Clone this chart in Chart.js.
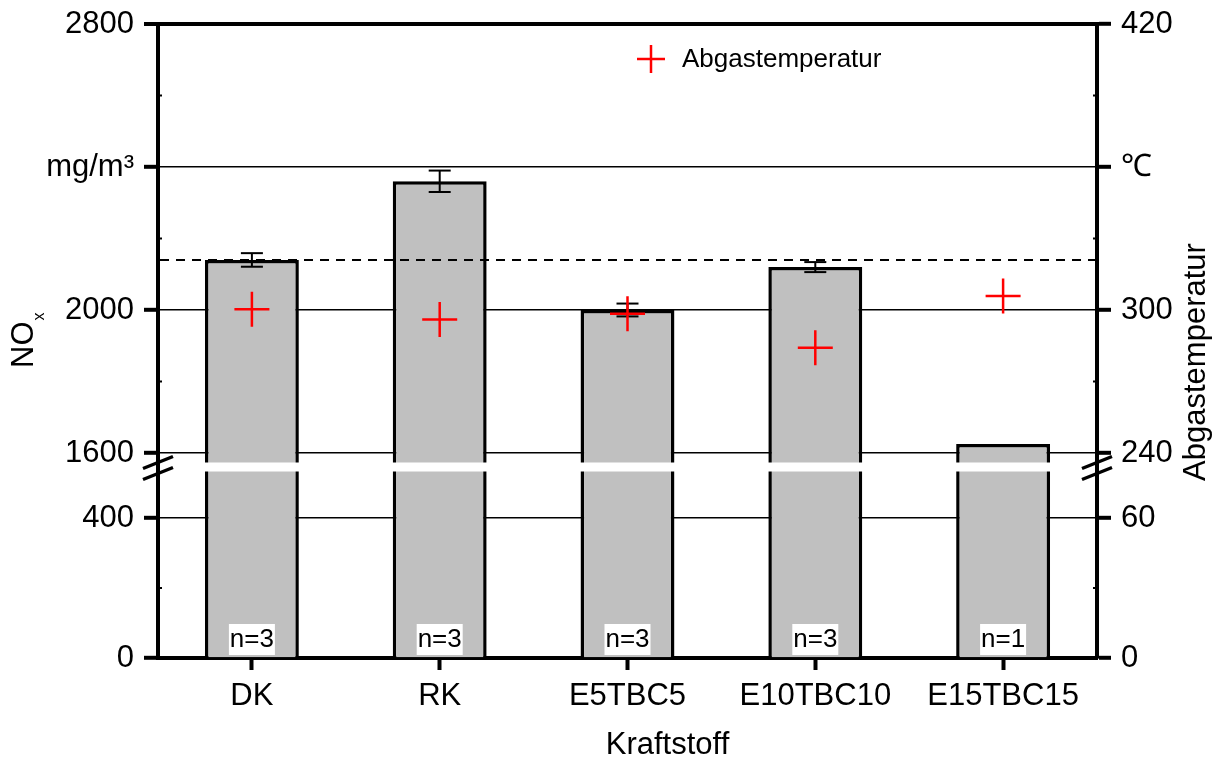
<!DOCTYPE html>
<html>
<head>
<meta charset="utf-8">
<title>NOx und Abgastemperatur</title>
<script src="https://cdn.jsdelivr.net/npm/chart.js@4.4.1/dist/chart.umd.min.js"></script>
<style>
  html, body { margin: 0; padding: 0; background: #fff; }
</style>
</head>
<body>
<canvas id="chart" width="1218" height="760"></canvas>
<script>
const FONT = '"Liberation Sans", Arial, Helvetica, sans-serif';

// Kraftstoffe und Messwerte
const fuels = ['DK', 'RK', 'E5TBC5', 'E10TBC10', 'E15TBC15'];
const noxMean = [2140, 2360, 2000, 2120, 1625];        // mg/m³
const noxErr = [19, 30, 18, 14, null];
const exhaustTemp = [300.3, 296, 298.4, 284.2, 305.9]; // °C
const sampleCount = [3, 3, 3, 3, 1];

// Achsenbruch: oberer und unterer Bereich
const noxHiRange = [1572, 2800];
const noxLoRange = [0, 557];
const tempHiRange = [235.8, 420];
const tempLoRange = [0, 83.6];
const noxHiTicks = [1600, 2000, 2400, 2800];
const noxLoTicks = [0, 400];
const tempHiTicks = [240, 300, 360, 420];
const tempLoTicks = [0, 60];
const noxMinor = [1800, 2200, 2600, 200];
const tempMinor = [270, 330, 390, 30];

function yAxis(position, range, ticks, unitAt, unit, weight) {
  return {
    type: 'linear',
    position,
    stack: 'axis',
    stackWeight: weight,
    min: range[0],
    max: range[1],
    afterBuildTicks: s => { s.ticks = ticks.map(v => ({ value: v })); },
    afterFit: s => {
      s.width = position === 'left' ? 158 : 121;
      // Beschriftungen duerfen ueber den Plotbereich hinausragen
      s.paddingTop = 0;
      s.paddingBottom = 0;
    },
    border: { display: true, color: '#000', width: 4 },
    grid: {
      drawOnChartArea: position === 'left',
      color: '#000',
      lineWidth: ctx => (ctx.tick && ctx.tick.value === 2800 ? 4 : 1.6),
      drawTicks: true,
      tickLength: 14,
      tickWidth: 4,
      tickColor: '#000',
    },
    ticks: {
      color: '#000',
      font: { family: FONT, size: 31 },
      padding: 10,
      callback: v => (v === unitAt ? unit : v),
    },
  };
}

function line(ctx, x1, y1, x2, y2) {
  ctx.beginPath();
  ctx.moveTo(x1, y1);
  ctx.lineTo(x2, y2);
  ctx.stroke();
}

const decor = {
  id: 'decor',
  afterDatasetDraw(chart, args) {
    if (args.index !== 1) return;
    const { ctx, chartArea: a, scales } = chart;
    const yHi = scales.yHi;
    ctx.save();
    // weisser Streifen am Achsenbruch
    ctx.fillStyle = '#fff';
    ctx.fillRect(a.left + 2, yHi.bottom - 0.5, a.right - a.left - 4, 9);
    // Fehlerbalken
    ctx.strokeStyle = '#000';
    ctx.lineWidth = 2;
    const meta = chart.getDatasetMeta(1);
    noxMean.forEach((v, i) => {
      if (noxErr[i] == null) return;
      const x = meta.data[i].x;
      const top = yHi.getPixelForValue(v + noxErr[i]);
      const bot = yHi.getPixelForValue(v - noxErr[i]);
      line(ctx, x, top, x, bot);
      line(ctx, x - 11, top, x + 11, top);
      line(ctx, x - 11, bot, x + 11, bot);
    });
    ctx.restore();
  },
  afterDatasetsDraw(chart) {
    const { ctx, chartArea: a, scales } = chart;
    const { yHi, yLo, tHi, tLo, x } = scales;
    ctx.save();

    // Referenzlinie DK
    ctx.strokeStyle = '#000';
    ctx.lineWidth = 2;
    ctx.setLineDash([9, 7]);
    const yRef = yHi.getPixelForValue(noxMean[0]);
    line(ctx, a.left + 2, yRef, a.right - 2, yRef);
    ctx.setLineDash([]);

    // Nebenstriche
    ctx.lineWidth = 2;
    noxMinor.forEach(v => {
      const s = v >= noxHiRange[0] ? yHi : yLo;
      const p = s.getPixelForValue(v);
      line(ctx, a.left, p, a.left + 4, p);
    });
    tempMinor.forEach(v => {
      const s = v >= tempHiRange[0] ? tHi : tLo;
      const p = s.getPixelForValue(v);
      line(ctx, a.right - 4, p, a.right, p);
    });

    // Bruchzeichen
    ctx.lineWidth = 3.5;
    const mid = yHi.bottom + 5;
    [a.left, a.right].forEach(px => {
      [-5.5, 5.5].forEach(o => line(ctx, px - 15, mid + o + 6, px + 15, mid + o - 6));
    });

    // Anzahl der Messungen
    ctx.font = `26px ${FONT}`;
    ctx.textAlign = 'center';
    ctx.textBaseline = 'middle';
    sampleCount.forEach((n, i) => {
      const cx = x.getPixelForValue(i);
      const bottom = a.bottom - 3;
      ctx.fillStyle = '#fff';
      ctx.fillRect(cx - 23, bottom - 31, 46, 31);
      ctx.fillStyle = '#000';
      ctx.fillText(`n=${n}`, cx, bottom - 15);
    });

    // Legende
    const ds = chart.data.datasets[0];
    const lx = a.left + 493;
    const ly = a.top + 35;
    ctx.strokeStyle = ds.borderColor;
    ctx.lineWidth = 2.5;
    line(ctx, lx - 14, ly, lx + 14, ly);
    line(ctx, lx, ly - 14, lx, ly + 14);
    ctx.fillStyle = '#000';
    ctx.font = `26px ${FONT}`;
    ctx.textAlign = 'left';
    ctx.fillText(ds.label, lx + 31, ly + 1);

    // Achsentitel
    ctx.font = `31px ${FONT}`;
    ctx.textAlign = 'center';
    ctx.fillText('Kraftstoff', (a.left + a.right) / 2 + 40, 745);

    ctx.save();
    ctx.translate(1205, 362);
    ctx.rotate(-Math.PI / 2);
    ctx.textBaseline = 'alphabetic';
    ctx.fillText('Abgastemperatur', 0, 0);
    ctx.restore();

    ctx.save();
    ctx.translate(33, 368);
    ctx.rotate(-Math.PI / 2);
    ctx.textAlign = 'left';
    ctx.textBaseline = 'alphabetic';
    ctx.font = `31px ${FONT}`;
    ctx.fillText('NO', 0, 0);
    const w = ctx.measureText('NO').width;
    ctx.font = `16px ${FONT}`;
    ctx.fillText('x', w + 1, 11);
    ctx.restore();

    ctx.restore();
  },
};

new Chart(document.getElementById('chart'), {
  data: {
    labels: fuels,
    datasets: [
      {
        type: 'line',
        label: 'Abgastemperatur',
        data: exhaustTemp,
        yAxisID: 'tHi',
        showLine: false,
        pointStyle: 'cross',
        pointRadius: 17.5,
        pointBorderWidth: 2.5,
        borderColor: '#ff0000',
        order: 0,
      },
      {
        type: 'bar',
        label: 'NOx',
        data: noxMean,
        yAxisID: 'yHi',
        backgroundColor: '#c0c0c0',
        borderColor: '#000',
        borderWidth: 3.5,
        barPercentage: 0.5,
        categoryPercentage: 1,
        grouped: false,
        order: 1,
      },
      {
        type: 'bar',
        label: 'NOx unterer Bereich',
        data: noxMean.map(v => Math.min(v, noxLoRange[1])),
        yAxisID: 'yLo',
        backgroundColor: '#c0c0c0',
        borderColor: '#000',
        borderWidth: 3.5,
        barPercentage: 0.5,
        categoryPercentage: 1,
        grouped: false,
        order: 2,
      },
    ],
  },
  options: {
    responsive: false,
    animation: false,
    layout: { padding: { top: 24, left: 0, right: 0, bottom: 0 } },
    plugins: { legend: { display: false }, tooltip: { enabled: false } },
    scales: {
      x: {
        type: 'category',
        offset: true,
        afterFit: s => { s.height = 102; },
        border: { color: '#000', width: 4 },
        grid: { drawOnChartArea: false, offset: false, tickLength: 12, tickWidth: 4, tickColor: '#000' },
        ticks: { color: '#000', font: { family: FONT, size: 31 }, padding: 8, maxRotation: 0, autoSkip: false },
      },
      yLo: yAxis('left', noxLoRange, noxLoTicks, null, '', 195),
      yHi: yAxis('left', noxHiRange, noxHiTicks, 2400, 'mg/m³', 439),
      tHi: yAxis('right', tempHiRange, tempHiTicks, 360, '℃', 439),
      tLo: yAxis('right', tempLoRange, tempLoTicks, null, '', 195),
    },
  },
  plugins: [decor],
});
</script>
</body>
</html>
